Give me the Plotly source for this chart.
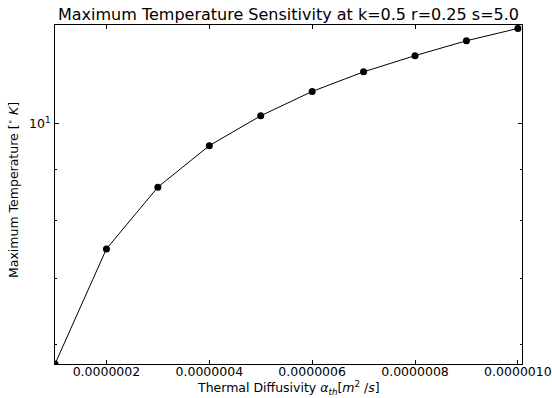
import math
import plotly.graph_objects as go

diffusivity = [1e-7, 2e-7, 3e-7, 4e-7, 5e-7, 6e-7, 7e-7, 8e-7, 9e-7, 1e-6]
max_temp = [5.74, 7.49, 8.64, 9.51, 10.19, 10.78, 11.28, 11.71, 12.12, 12.47]

x_tickvals = [2e-7, 4e-7, 6e-7, 8e-7, 1e-6]
x_ticktext = ["0.0000002", "0.0000004", "0.0000006", "0.0000008", "0.0000010"]
y_tickvals = [10]
y_ticktext = ["10<sup>1</sup>"]
y_minor = [6, 7, 8, 9]

font = "DejaVu Sans, Verdana, sans-serif"
W, H = 552, 398
L, R, T, B = 55, 30, 25, 34

fig = go.Figure()
fig.add_trace(go.Scatter(
    x=diffusivity, y=max_temp, mode="lines+markers",
    line=dict(color="black", width=1),
    marker=dict(color="black", size=7),
    showlegend=False,
))

fig.update_layout(
    width=W, height=H,
    margin=dict(l=L, r=R, t=T, b=B),
    paper_bgcolor="white", plot_bgcolor="white",
    font=dict(family=font, size=12.5, color="black"),
    title=dict(text="Maximum Temperature Sensitivity at k=0.5 r=0.25 s=5.0",
               x=0.5, xref="paper", xanchor="center",
               y=1 - 14 / H, yref="container", yanchor="middle",
               font=dict(size=16, family=font)),
)

fig.update_xaxes(
    range=[1e-7, 1.008e-6],
    tickvals=x_tickvals, ticktext=x_ticktext,
    ticks="inside", ticklen=4, tickwidth=1, tickcolor="black",
    ticklabelstandoff=-4,
    showline=True, linecolor="black", linewidth=1, mirror="ticks",
    showgrid=False, zeroline=False, automargin=False,
    tickfont=dict(size=12.5),
)

fig.update_yaxes(
    type="log",
    range=[math.log10(5.74), math.log10(12.57)],
    tickvals=y_tickvals, ticktext=y_ticktext,
    ticks="inside", ticklen=4, tickwidth=1, tickcolor="black",
    ticklabelstandoff=1,
    minor=dict(tickvals=y_minor, ticks="inside", ticklen=2, tickcolor="black", showgrid=False),
    showline=True, linecolor="black", linewidth=1, mirror="ticks",
    showgrid=False, zeroline=False, automargin=False,
    tickfont=dict(size=12.5),
)

fig.add_annotation(
    text="Thermal Diffusivity <i>α<sub>th</sub></i>[<i>m</i><sup>2</sup> /<i>s</i>]",
    xref="paper", yref="paper", x=0.5, y=-(388 - (H - B)) / (H - T - B),
    xanchor="center", yanchor="middle", showarrow=False, font=dict(size=12.5),
)
fig.add_annotation(
    text="Maximum Temperature [<sup>∘</sup> <i>K</i>]",
    xref="paper", yref="paper", x=-(L - 13) / (W - L - R), y=1 - (190 - T) / (H - T - B),
    xanchor="center", yanchor="middle", textangle=-90, showarrow=False, font=dict(size=12.5),
)

fig.write_html("out.html")
